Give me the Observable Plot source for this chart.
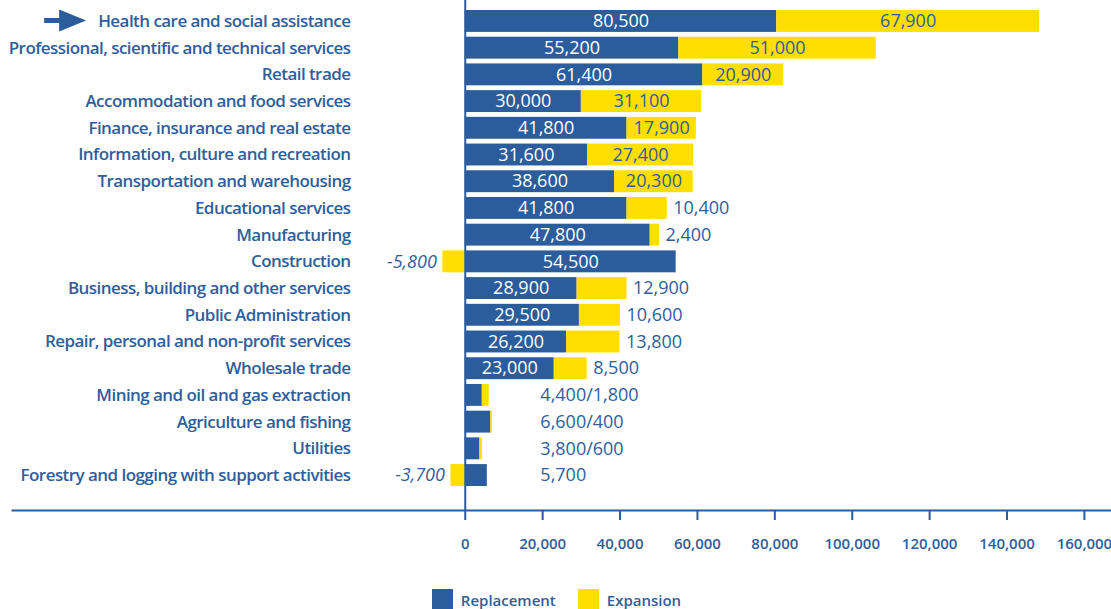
<!DOCTYPE html>
<html><head><meta charset="utf-8">
<script src="https://cdn.jsdelivr.net/npm/d3@7"></script>
<script src="https://cdn.jsdelivr.net/npm/@observablehq/plot@0.6"></script>
<style>
body{margin:0;background:#fff;font-family:"Open Sans",sans-serif;}
#legend{display:flex;justify-content:center;align-items:center;height:21px;margin-top:4px;padding-left:2px;color:#2f5e9c;font-size:15px;font-weight:600}
.sw{width:21px;height:21px;display:inline-block;margin-right:8px}
.item{display:flex;align-items:center;margin:0 11px}
</style></head><body>
<div id="chart"></div><div id="legend"></div>
<script>
const categories = [
  "Health care and social assistance",
  "Professional, scientific and technical services",
  "Retail trade",
  "Accommodation and food services",
  "Finance, insurance and real estate",
  "Information, culture and recreation",
  "Transportation and warehousing",
  "Educational services",
  "Manufacturing",
  "Construction",
  "Business, building and other services",
  "Public Administration",
  "Repair, personal and non-profit services",
  "Wholesale trade",
  "Mining and oil and gas extraction",
  "Agriculture and fishing",
  "Utilities",
  "Forestry and logging with support activities"
];
const replacement = [80500,55200,61400,30000,41800,31600,38600,41800,47800,54500,28900,29500,26200,23000,4400,6600,3800,5700];
const expansion   = [67900,51000,20900,31100,17900,27400,20300,10400,2400,-5800,12900,10600,13800,8500,1800,400,600,-3700];
const series = ["Replacement","Expansion"];
const colors = ["#2b5c9b","#ffde00"];
const xTicks = [0,20000,40000,60000,80000,100000,120000,140000,160000];

const blue = "#2b5c9b";
const textBlue = "#2f5e9c";
const fmt = v => (v < 0 ? "-" : "") + d3.format(",")(Math.abs(v));

const rows = categories.map((c,i) => ({cat:c, r:replacement[i], e:expansion[i]}));
const long = rows.flatMap(d => [
  {cat:d.cat, series:series[0], value:d.r},
  {cat:d.cat, series:series[1], value:d.e}
]);
const big = rows.filter(d => d.r >= 10000);
const small = rows.filter(d => d.r < 10000);
const smallEnd = d3.max(small, d => d.r + Math.max(d.e, 0));

const chart = Plot.plot({
  width: 1111, height: 585,
  marginLeft: 12, marginRight: 0, marginTop: 0, marginBottom: 75,
  style: {fontFamily: "'Open Sans', sans-serif", color: blue, background: "white"},
  x: {domain: [-117000, 167000], axis: null},
  y: {domain: categories, axis: null, insetTop: 10, insetBottom: 24, paddingInner: 0.18, paddingOuter: 0, round: false},
  color: {domain: series, range: colors},
  marks: [
    Plot.barX(long, {y: "cat", x: "value", fill: "series"}),
    Plot.ruleX([0], {stroke: blue, strokeWidth: 2}),
    Plot.frame({anchor: "bottom", stroke: blue, strokeWidth: 2}),
    Plot.axisX(xTicks, {anchor: "bottom", tickSize: 10, tickPadding: 18, tickFormat: d3.format(","), fontSize: 15, fontWeight: 600, strokeWidth: 2, fill: textBlue}),
    Plot.text(categories, {y: d => d, frameAnchor: "left", dx: 338, textAnchor: "end", fontSize: 17, fontWeight: 600, fill: textBlue}),
    Plot.text(big, {y: "cat", x: d => d.r / 2, text: d => fmt(d.r), fill: "white", fontSize: 18, fontWeight: 500}),
    Plot.text(big.filter(d => d.e >= 14000), {y: "cat", x: d => d.r + d.e / 2, text: d => fmt(d.e), fill: textBlue, fontSize: 18, fontWeight: 500}),
    Plot.text(big.filter(d => d.e > 0 && d.e < 14000), {y: "cat", x: d => d.r + d.e, dx: 6, textAnchor: "start", text: d => fmt(d.e), fill: textBlue, fontSize: 18, fontWeight: 500}),
    Plot.text(rows.filter(d => d.e < 0), {y: "cat", x: "e", dx: -6, textAnchor: "end", text: d => fmt(d.e), fill: textBlue, fontSize: 18, fontWeight: 500, fontStyle: "italic"}),
    Plot.text(small, {y: "cat", x: () => smallEnd, dx: 48, textAnchor: "start", text: d => d.e > 0 ? fmt(d.r) + "/" + fmt(d.e) : fmt(d.r), fill: textBlue, fontSize: 18, fontWeight: 500})
  ]
});
document.getElementById("chart").appendChild(chart);

const svg = chart.tagName === "svg" ? chart : chart.querySelector("svg");
const texts = Array.from(svg.querySelectorAll("text"));
const first = texts.find(t => t.textContent === categories[0]);
// tighter tracking for the category labels, as in the reference
if (first && first.parentNode) first.parentNode.style.letterSpacing = "-0.55px";

// arrow pointing at the first category label
const sRect = svg.getBoundingClientRect();
if (first) {
  const r = first.getBoundingClientRect();
  const tip = r.left - sRect.left - 12, cy = (r.top + r.bottom) / 2 - sRect.top;
  const p = document.createElementNS("http://www.w3.org/2000/svg", "path");
  p.setAttribute("d", `M${tip-42},${cy-2.5}L${tip-27},${cy-2.5}L${tip-27},${cy-11}L${tip},${cy}L${tip-27},${cy+11}L${tip-27},${cy+2.5}L${tip-42},${cy+2.5}Z`);
  p.setAttribute("fill", blue);
  svg.appendChild(p);
}

// legend
const lg = document.getElementById("legend");
series.forEach((s, i) => {
  const it = document.createElement("div"); it.className = "item";
  const sw = document.createElement("span"); sw.className = "sw"; sw.style.background = colors[i];
  const tx = document.createElement("span"); tx.textContent = s;
  it.appendChild(sw); it.appendChild(tx); lg.appendChild(it);
});
</script>
</body></html>
